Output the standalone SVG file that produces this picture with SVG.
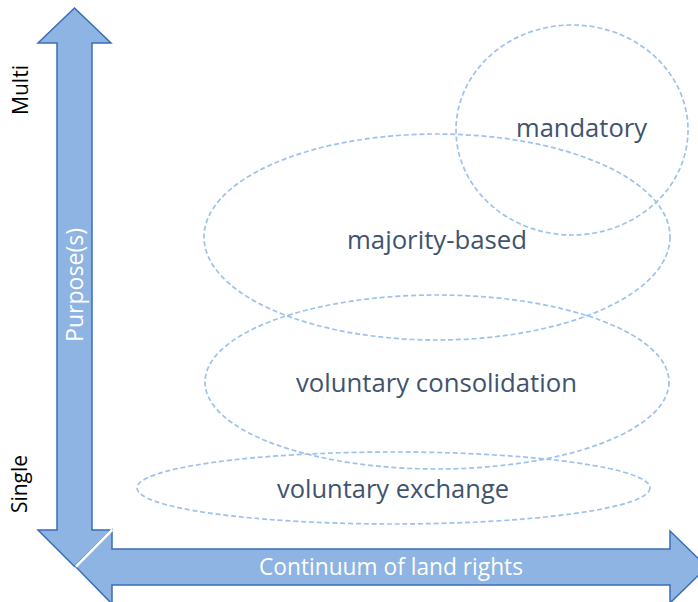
<svg xmlns="http://www.w3.org/2000/svg" width="698" height="602" viewBox="0 0 698 602">
<style>
.arrow{fill:#8EB4E3;stroke:#3A6DB5;stroke-width:1.5;stroke-linejoin:miter}
.oval{fill:none;stroke:#9EC2EC;stroke-width:1.7;stroke-dasharray:5 2.8}
.lbl{font-family:"Open Sans","Liberation Sans",sans-serif;font-size:26px;fill:#3F536E;text-anchor:middle}
.axis{font-family:"Open Sans","Liberation Sans",sans-serif;font-size:23px;fill:#FFFFFF;text-anchor:middle}
.side{font-family:"Open Sans","Liberation Sans",sans-serif;font-size:21px;fill:#000000;text-anchor:middle}
</style>
<rect width="698" height="602" fill="#FFFFFF"/>
<g id="connectors">
<polygon id="axis-purpose" class="arrow" points="74.5,8 111,43 92,43 92,530 111,530 74.5,566.5 38,530 57,530 57,43 38,43"/>
<polygon id="axis-rights" class="arrow" points="76,567 112,530 112,549 670,549 670,531 707,567 670,603 670,585 112,585 112,604"/>
<line x1="112.5" y1="529.5" x2="76" y2="566.5" stroke="#FFFFFF" stroke-width="2.5"/>
<text class="axis" x="391" y="575" textLength="264" lengthAdjust="spacingAndGlyphs">Continuum of land rights</text>
<text class="axis" transform="translate(83,285) rotate(-90)" textLength="114" lengthAdjust="spacingAndGlyphs">Purpose(s)</text>
<text class="side" transform="translate(28,90) rotate(-90)" textLength="50" lengthAdjust="spacingAndGlyphs">Multi</text>
<text class="side" transform="translate(27,484) rotate(-90)" textLength="58" lengthAdjust="spacingAndGlyphs">Single</text>
</g>
<g id="mandatory">
<ellipse class="oval" cx="572" cy="130" rx="116" ry="105"/>
<text class="lbl" x="581.5" y="137" textLength="131" lengthAdjust="spacingAndGlyphs">mandatory</text>
</g>
<g id="majority-based">
<ellipse class="oval" cx="437" cy="237" rx="233" ry="103"/>
<text class="lbl" x="437" y="249" textLength="180" lengthAdjust="spacingAndGlyphs">majority-based</text>
</g>
<g id="voluntary-consolidation">
<ellipse class="oval" cx="437" cy="382" rx="232" ry="87"/>
<text class="lbl" x="436.5" y="392" textLength="281" lengthAdjust="spacingAndGlyphs">voluntary consolidation</text>
</g>
<g id="voluntary-exchange">
<ellipse class="oval" cx="393.5" cy="488" rx="256.5" ry="36"/>
<text class="lbl" x="393" y="498" textLength="232" lengthAdjust="spacingAndGlyphs">voluntary exchange</text>
</g>
</svg>
